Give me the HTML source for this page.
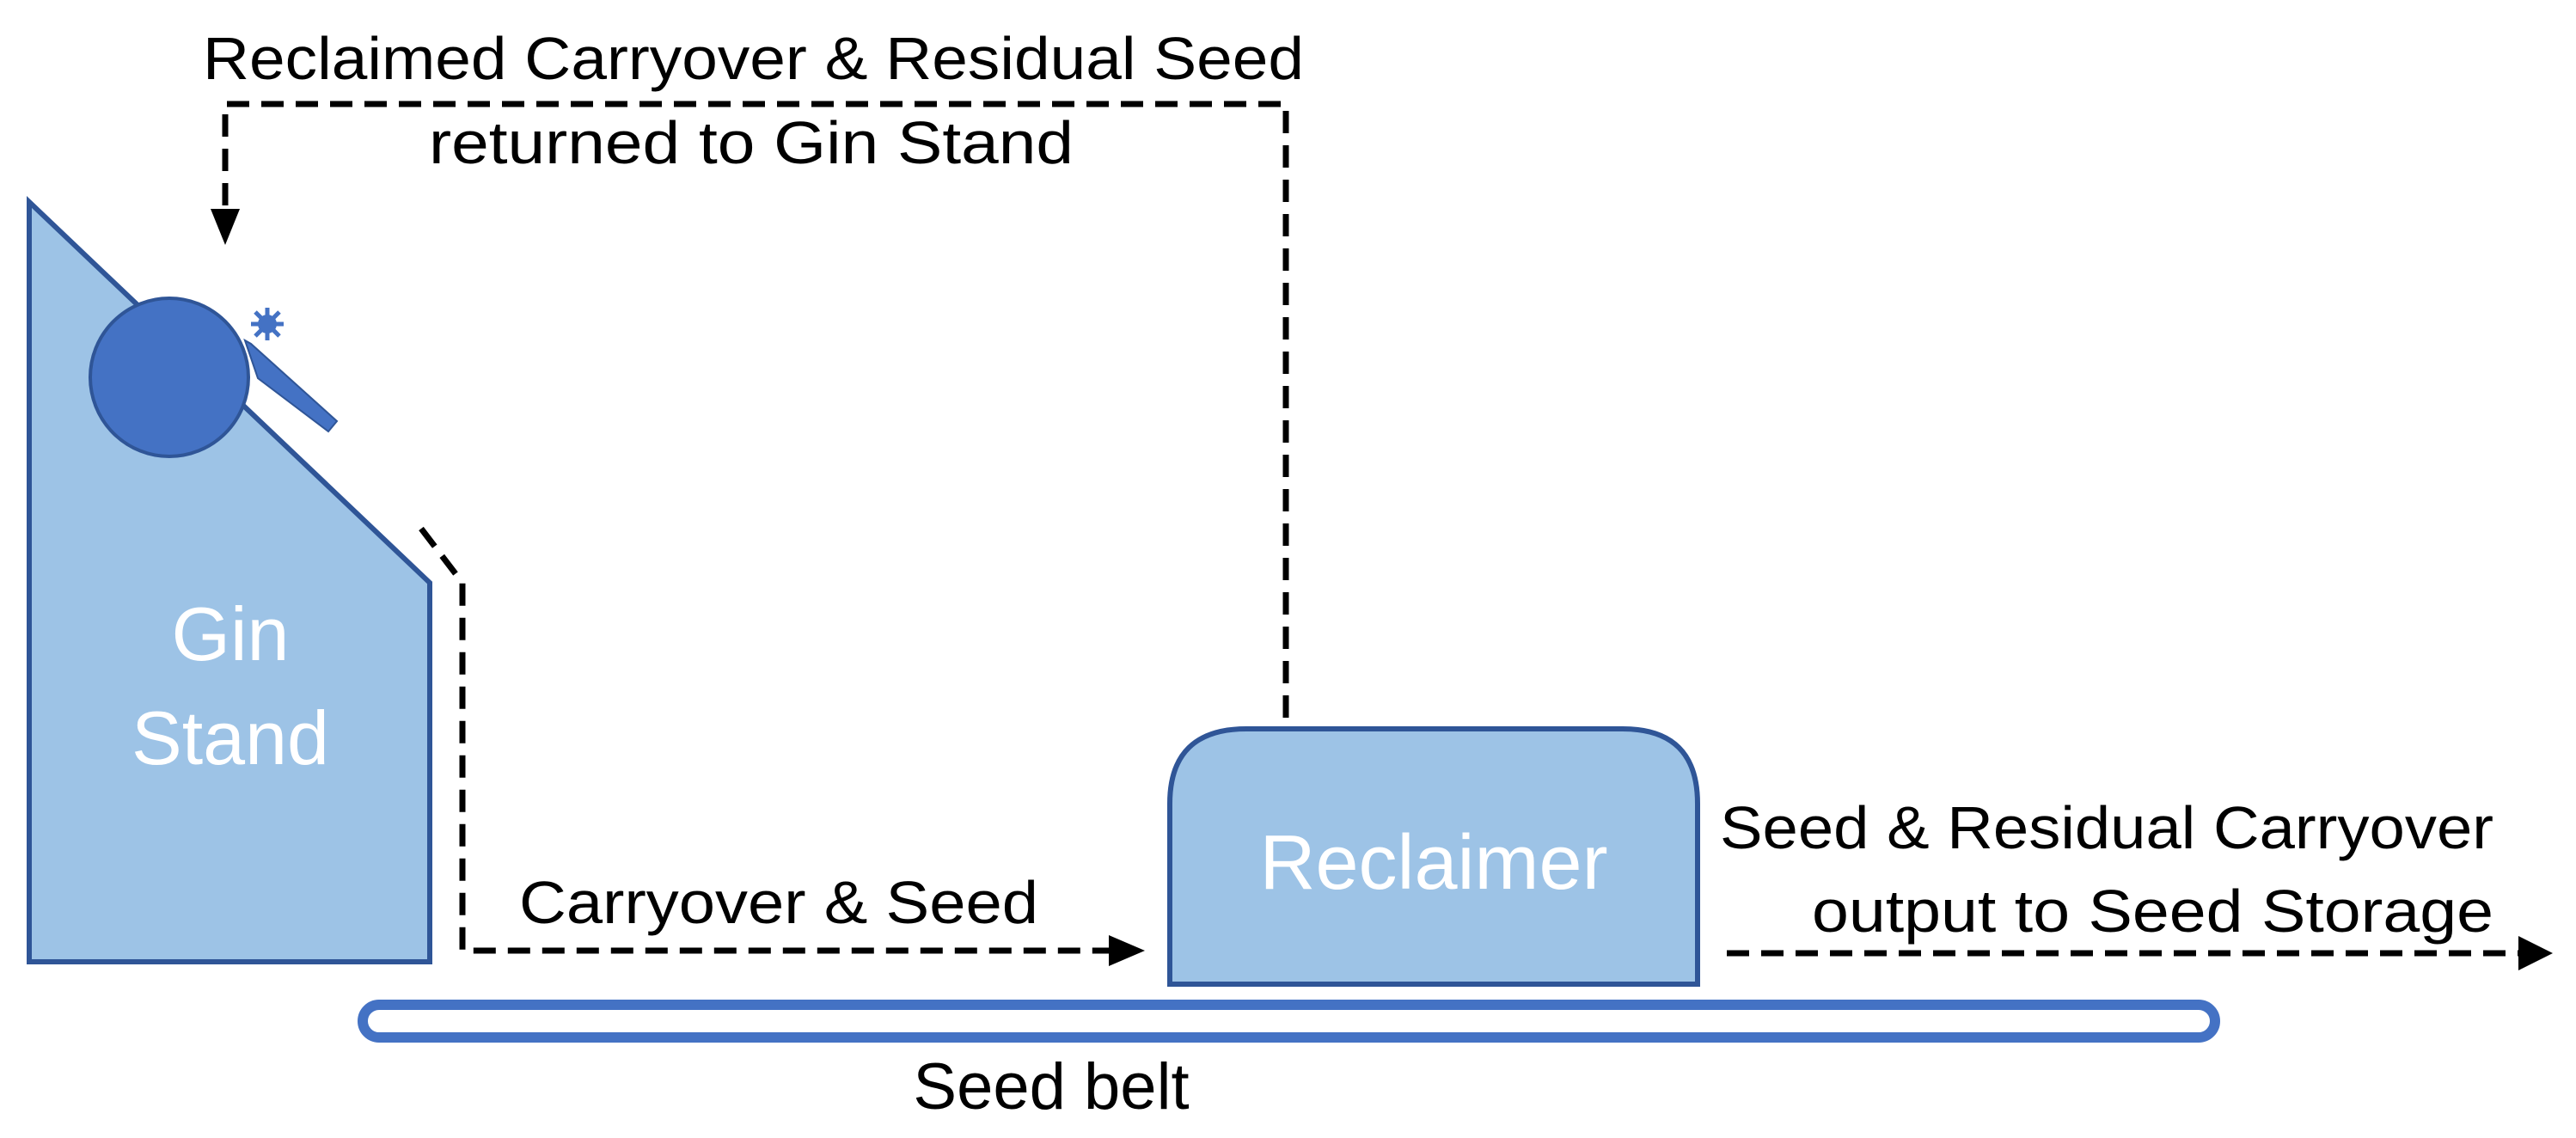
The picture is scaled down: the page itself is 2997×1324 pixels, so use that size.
<!DOCTYPE html>
<html><head><style>html,body{margin:0;padding:0;background:#fff;}svg{display:block}</style></head>
<body>
<svg width="2997" height="1324" viewBox="0 0 2997 1324" xmlns="http://www.w3.org/2000/svg" font-family="Liberation Sans, sans-serif">
<!-- Gin stand -->
<polygon points="34,235 34,1119 500,1119 500,678" fill="#9dc3e6" stroke="#2f5597" stroke-width="6"/>
<circle cx="197" cy="439" r="92" fill="#4472c4" stroke="#2f5597" stroke-width="4"/>
<polygon points="285,396 292,400 392,490 382,502 300,440" fill="#4472c4" stroke="#2f5597" stroke-width="2"/>
<g stroke="#4472c4" stroke-width="5">
<line x1="292" y1="377" x2="330" y2="377"/><line x1="311" y1="358" x2="311" y2="396"/>
<line x1="297" y1="363" x2="325" y2="391"/><line x1="325" y1="363" x2="297" y2="391"/>
</g>
<circle cx="311" cy="377" r="11" fill="#4472c4"/>
<text x="268" y="768" font-size="88" fill="#fff" text-anchor="middle">Gin</text>
<text x="268" y="889" font-size="88" fill="#fff" text-anchor="middle">Stand</text>
<!-- Reclaimer -->
<path d="M1361,1145 L1361,935 Q1361,848 1450,848 L1888,848 Q1975,848 1975,935 L1975,1145 Z" fill="#9dc3e6" stroke="#2f5597" stroke-width="6"/>
<text x="1668" y="1034" font-size="90" fill="#fff" text-anchor="middle">Reclaimer</text>
<!-- belt -->
<rect x="422" y="1169" width="2155" height="38" rx="19" fill="#fff" stroke="#4472c4" stroke-width="12"/>
<text x="1223" y="1290" font-size="76" fill="#000" text-anchor="middle">Seed belt</text>
<!-- dashed connectors -->
<g fill="none" stroke="#000" stroke-width="7" stroke-dasharray="26,14">
<polyline points="490,615 538,678 538,1106 1300,1106"/>
<polyline points="1496,835 1496,121 262,121 262,250"/>
<polyline points="2009,1109 2935,1109"/>
</g>
<polygon points="1290,1088 1332,1106 1290,1124" fill="#000"/>
<polygon points="245,243 279,243 262,285" fill="#000"/>
<polygon points="2930,1089 2970,1109 2930,1129" fill="#000"/>
<!-- labels -->
<g font-size="70" fill="#000">
<text x="236" y="92" textLength="1281" lengthAdjust="spacingAndGlyphs">Reclaimed Carryover &amp; Residual Seed</text>
<text x="499" y="190" textLength="750" lengthAdjust="spacingAndGlyphs">returned to Gin Stand</text>
<text x="604" y="1074" textLength="604" lengthAdjust="spacingAndGlyphs">Carryover &amp; Seed</text>
<text x="2001" y="987" textLength="900" lengthAdjust="spacingAndGlyphs">Seed &amp; Residual Carryover</text>
<text x="2108" y="1084" textLength="793" lengthAdjust="spacingAndGlyphs">output to Seed Storage</text>
</g>
</svg>
</body></html>
